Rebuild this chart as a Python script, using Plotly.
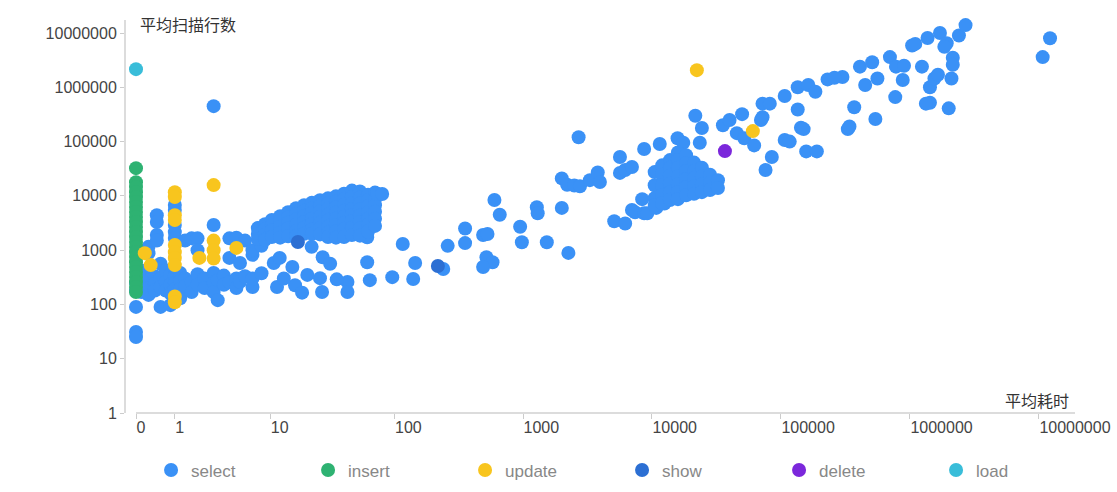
import numpy as np
import plotly.graph_objects as go

# ---- data: (average time, average rows scanned) per statement type ----
select_points = [
    # near-zero time
    (0, 90), (0, 31), (0, 25), (0, 250), (0, 180),
    (0.1, 420), (0.1, 310), (0.1, 230), (0.1, 170),
    (0.25, 380), (0.25, 280), (0.25, 200), (0.25, 150), (0.25, 1150), (0.25, 880),
    (0.45, 4400), (0.45, 3300), (0.45, 1900), (0.45, 1500), (0.4, 330), (0.4, 240), (0.4, 180),
    (0.55, 560), (0.55, 300), (0.55, 210), (0.55, 90),
    (0.7, 420), (0.7, 260), (0.7, 180),
    (0.85, 350), (0.85, 230), (0.85, 160), (0.85, 97),
    (1, 6800), (1, 5500), (1, 2900), (1, 2150), (1, 1670), (1, 430), (1, 330), (1, 250), (1, 190),
    (1.2, 380), (1.2, 270), (1.2, 190), (1.2, 130),
    (1.4, 1500), (1.4, 300), (1.4, 220),
    (1.7, 1650), (1.7, 260), (1.7, 170),
    (2.0, 1650), (2.0, 1000), (2.0, 360), (2.0, 230),
    (2.4, 300), (2.4, 200),
    (3.0, 2900), (3.0, 380), (3.0, 250), (3.0, 170), (3.0, 450000),
    (3.3, 120), (3.3, 280),
    (3.8, 340), (3.8, 230),
    (4.3, 1650), (4.3, 720), (4.3, 260),
    (5.0, 1700), (5.0, 300), (5.0, 200),
    (5.4, 580), (5.4, 260),
    (6.0, 1500), (6.0, 330),
    (7.0, 820), (7.0, 1000), (7.0, 210), (7.0, 300),
    (8.4, 375), (8.4, 1200),
    (10.7, 580), (11.4, 210),
    # 10 - 100 ms, sparse low rows
    (12, 720), (15.3, 490), (16.1, 225), (20.3, 350), (25.7, 305), (26.7, 170),
    (27, 740), (18.4, 165), (42.6, 260), (42.6, 170), (61, 600), (64, 280),
    (61, 1730), (22, 1150), (31, 560), (35, 290), (13, 300),
    # 10 - 100 ms, dense band
    (7.8, 2550), (7.8, 1980), (7.8, 1600),
    (9.0, 3000), (9.0, 2400), (9.0, 1900), (9.0, 1550),
    (10.3, 3600), (10.3, 2900), (10.3, 2300), (10.3, 1750),
    (12.1, 4200), (12.1, 3400), (12.1, 2700), (12.1, 2100), (12.1, 1700),
    (14.1, 5000), (14.1, 4000), (14.1, 3200), (14.1, 2500), (14.1, 1800),
    (16.4, 5900), (16.4, 4700), (16.4, 3700), (16.4, 2900), (16.4, 2200), (16.4, 1850),
    (19.1, 6700), (19.1, 5300), (19.1, 4200), (19.1, 3300), (19.1, 2600), (19.1, 2000),
    (22.1, 7500), (22.1, 6000), (22.1, 4800), (22.1, 3800), (22.1, 3000), (22.1, 2400), (22.1, 2000),
    (25.7, 8300), (25.7, 6600), (25.7, 5200), (25.7, 4100), (25.7, 3200), (25.7, 2500), (25.7, 1950),
    (29.8, 9000), (29.8, 7200), (29.8, 5700), (29.8, 4500), (29.8, 3500), (29.8, 2700), (29.8, 2100), (29.8, 1750),
    (34.5, 9800), (34.5, 7800), (34.5, 6200), (34.5, 4900), (34.5, 3800), (34.5, 2900), (34.5, 2200), (34.5, 1700),
    (40, 11000), (40, 8600), (40, 6800), (40, 5300), (40, 4100), (40, 3200), (40, 2400), (40, 1750),
    (46.2, 12500), (46.2, 9500), (46.2, 7400), (46.2, 5700), (46.2, 4400), (46.2, 3400), (46.2, 2600), (46.2, 1900),
    (53.5, 12000), (53.5, 9300), (53.5, 7200), (53.5, 5600), (53.5, 4300), (53.5, 3300), (53.5, 2500), (53.5, 1850),
    (61.9, 10500), (61.9, 8200), (61.9, 6400), (61.9, 5000), (61.9, 3800), (61.9, 2900), (61.9, 2200),
    (70.3, 11500), (70.3, 8800), (70.3, 6700), (70.3, 5100), (70.3, 3800), (70.3, 2800),
    (73, 11000), (80, 10800),
    # 100 ms - 25 s
    (96, 318), (116, 1300), (145, 580), (140, 295), (240, 450), (260, 1200),
    (355, 2500), (355, 1350), (490, 1900), (530, 1990), (520, 740), (580, 600),
    (490, 490), (600, 8400), (660, 4500), (950, 2700), (980, 1400), (1280, 6200),
    (1300, 4800), (1530, 1400), (2000, 6000), (2250, 890), (2000, 21000), (2200, 16000),
    (2500, 15500), (2766, 15000), (2700, 120000), (3300, 19500), (3800, 27000), (3950, 18000),
    (5650, 52000), (5650, 26500), (6200, 30000), (7000, 34000), (8700, 73000), (8400, 8700),
    (5100, 3400), (6200, 3100), (7000, 5500), (7400, 5000), (8700, 4800), (9200, 4800),
    (10800, 6000), (12500, 7200), (11500, 90000), (15800, 115000), (17500, 95000),
    (21700, 300000), (24400, 178000), (23500, 95000),
    # dense group around 10 - 30 s
    (10500, 27400), (10500, 15700), (10500, 9100), (10500, 6800),
    (12000, 36500), (12000, 24500), (12000, 15700), (12000, 10300), (12000, 7300),
    (13800, 45600), (13800, 32900), (13800, 23200), (13800, 16500), (13800, 11700), (13800, 8400),
    (15900, 63000), (15900, 45600), (15900, 33000), (15900, 23200), (15900, 16500), (15900, 11700), (15900, 8700),
    (18400, 56000), (18400, 40000), (18400, 28700), (18400, 20500), (18400, 14600), (18400, 10300),
    (21200, 41000), (21200, 29000), (21200, 21000), (21200, 15100), (21200, 10900),
    (24400, 33000), (24400, 23200), (24400, 16500), (24400, 11700),
    (28200, 24500), (28200, 17200), (28200, 12800),
    (32500, 19500), (32500, 14000),
    # 30 s and beyond
    (35500, 200000), (40000, 250000), (50000, 320000), (45500, 143000), (52000, 115000),
    (62000, 85000), (72000, 280000), (72000, 500000), (82000, 500000), (70000, 250000),
    (85000, 52000), (76000, 30000), (107000, 690000), (135000, 1000000), (163000, 1100000),
    (185000, 830000), (135000, 390000), (143000, 180000), (107000, 107000), (117000, 100000),
    (150000, 170000), (157000, 66000), (190000, 66000),
    (230000, 1400000), (300000, 1550000), (260000, 1500000), (370000, 430000), (330000, 170000),
    (340000, 190000), (410000, 2400000), (510000, 2900000), (450000, 1100000), (560000, 1450000),
    (540000, 260000), (700000, 3600000), (780000, 2400000), (900000, 2500000), (880000, 1360000),
    (770000, 660000), (1040000, 5900000), (1100000, 6300000), (1240000, 2400000), (1370000, 8100000),
    (1710000, 10000000), (1930000, 6500000), (1850000, 5600000), (2150000, 3500000), (2150000, 2600000),
    (2400000, 9000000), (2700000, 14000000), (1430000, 1000000), (1550000, 1450000), (1650000, 1700000),
    (2100000, 1450000), (1430000, 520000), (1330000, 500000), (2000000, 410000),
    (10700000, 3600000), (12200000, 8000000), (18400000, 18800000),
]

insert_points = [
    (0, 32400), (0, 17900), (0, 14500), (0, 11700), (0, 9500), (0, 7700), (0, 6240),
    (0, 5040), (0, 4080), (0, 3290), (0, 2670), (0, 2150), (0, 1740), (0, 1410),
    (0, 1140), (0, 920), (0, 745), (0, 600), (0, 490), (0, 395), (0, 320), (0, 258),
    (0, 209), (0, 169),
]

update_points = [
    (1, 11700), (1, 9500), (1, 4400), (1, 3600), (1, 1250), (1, 920), (1, 720),
    (1, 530), (1, 140), (1, 110),
    (3.0, 15800), (3.0, 1500), (3.0, 1000), (3.0, 700), (2.1, 720), (5.0, 1100),
    (0.17, 880), (0.3, 530),
    (22300, 2070000), (60600, 156000),
]

show_points = [(17, 1410), (218, 510)]
delete_points = [(36800, 66800)]
load_points = [(0, 2160000)]

series_names = ["select", "insert", "update", "show", "delete", "load"]
series_points = [select_points, insert_points, update_points,
                 show_points, delete_points, load_points]
series_colors = ["#3A91F6", "#2EB272", "#F8C51E", "#2C6FD3", "#7B27DB", "#39BDD9"]

x_tick_values = [0, 1, 10, 100, 1000, 10000, 100000, 1000000, 10000000]
x_tick_labels = ["0", "1", "10", "100", "1000", "10000", "100000", "1000000", "10000000"]
y_tick_values = [1, 10, 100, 1000, 10000, 100000, 1000000, 10000000]
y_tick_labels = ["1", "10", "100", "1000", "10000", "100000", "1000000", "10000000"]


def time_axis(v):
    # time axis uses log10(t + 1) so that zero durations can be shown
    return np.log10(np.asarray(v, dtype=float) + 1.0)


AXIS_GRAY = "#dcdcdc"
TEXT_DARK = "#333333"
FONT = "Liberation Sans, Noto Sans CJK SC, sans-serif"

fig = go.Figure()
for name, pts, color in zip(series_names, series_points, series_colors):
    t = [p[0] for p in pts]
    r = [p[1] for p in pts]
    fig.add_trace(go.Scatter(
        x=time_axis(t), y=r, mode="markers", name=name,
        customdata=t,
        hovertemplate="平均耗时 %{customdata}<br>平均扫描行数 %{y}<extra>" + name + "</extra>",
        marker=dict(size=14, color=color, line=dict(width=0)),
        cliponaxis=False,
    ))

x_min, x_max = -0.0775, 7.28

fig.update_layout(
    width=1117, height=492,
    margin=dict(l=126, r=1117 - 1075, t=20, b=79, autoexpand=False),
    paper_bgcolor="white", plot_bgcolor="white",
    font=dict(family=FONT, size=16, color=TEXT_DARK),
    showlegend=True,
    legend=dict(
        orientation="h", x=-0.001, xanchor="left",
        y=-0.146, yanchor="middle",
        indentation=26, entrywidth=86, entrywidthmode="pixels",
        font=dict(size=17, color="#888888", family=FONT),
        itemclick=False, itemdoubleclick=False,
    ),
    xaxis=dict(
        range=[x_min, x_max], showgrid=False, zeroline=False, showline=False,
        tickmode="array", tickvals=time_axis(x_tick_values), ticktext=x_tick_labels,
        ticks="outside", ticklen=5, tickwidth=1, tickcolor="#cccccc",
        ticklabelposition="outside right",
        tickfont=dict(size=16, color="#444444", family=FONT),
    ),
    yaxis=dict(
        type="log", range=[0, 7.24], showgrid=False, zeroline=False,
        showline=True, linecolor=AXIS_GRAY, linewidth=2,
        tickmode="array", tickvals=y_tick_values, ticktext=y_tick_labels,
        ticks="outside", ticklen=4, tickwidth=1, tickcolor="#cccccc",
        tickfont=dict(size=16, color="#444444", family=FONT),
    ),
    shapes=[dict(
        type="line", xref="x", yref="paper", x0=0, x1=x_max, y0=0, y1=0,
        line=dict(color=AXIS_GRAY, width=2), layer="below",
    )],
    annotations=[
        dict(text="平均扫描行数", xref="paper", yref="paper", x=0.0126, y=0.987,
             xanchor="left", yanchor="middle", showarrow=False,
             font=dict(size=16, color=TEXT_DARK, family=FONT)),
        dict(text="平均耗时", xref="paper", yref="paper", x=0.9958, y=0.028,
             xanchor="right", yanchor="middle", showarrow=False,
             font=dict(size=16, color=TEXT_DARK, family=FONT)),
    ],
)

fig.write_html("out.html")
